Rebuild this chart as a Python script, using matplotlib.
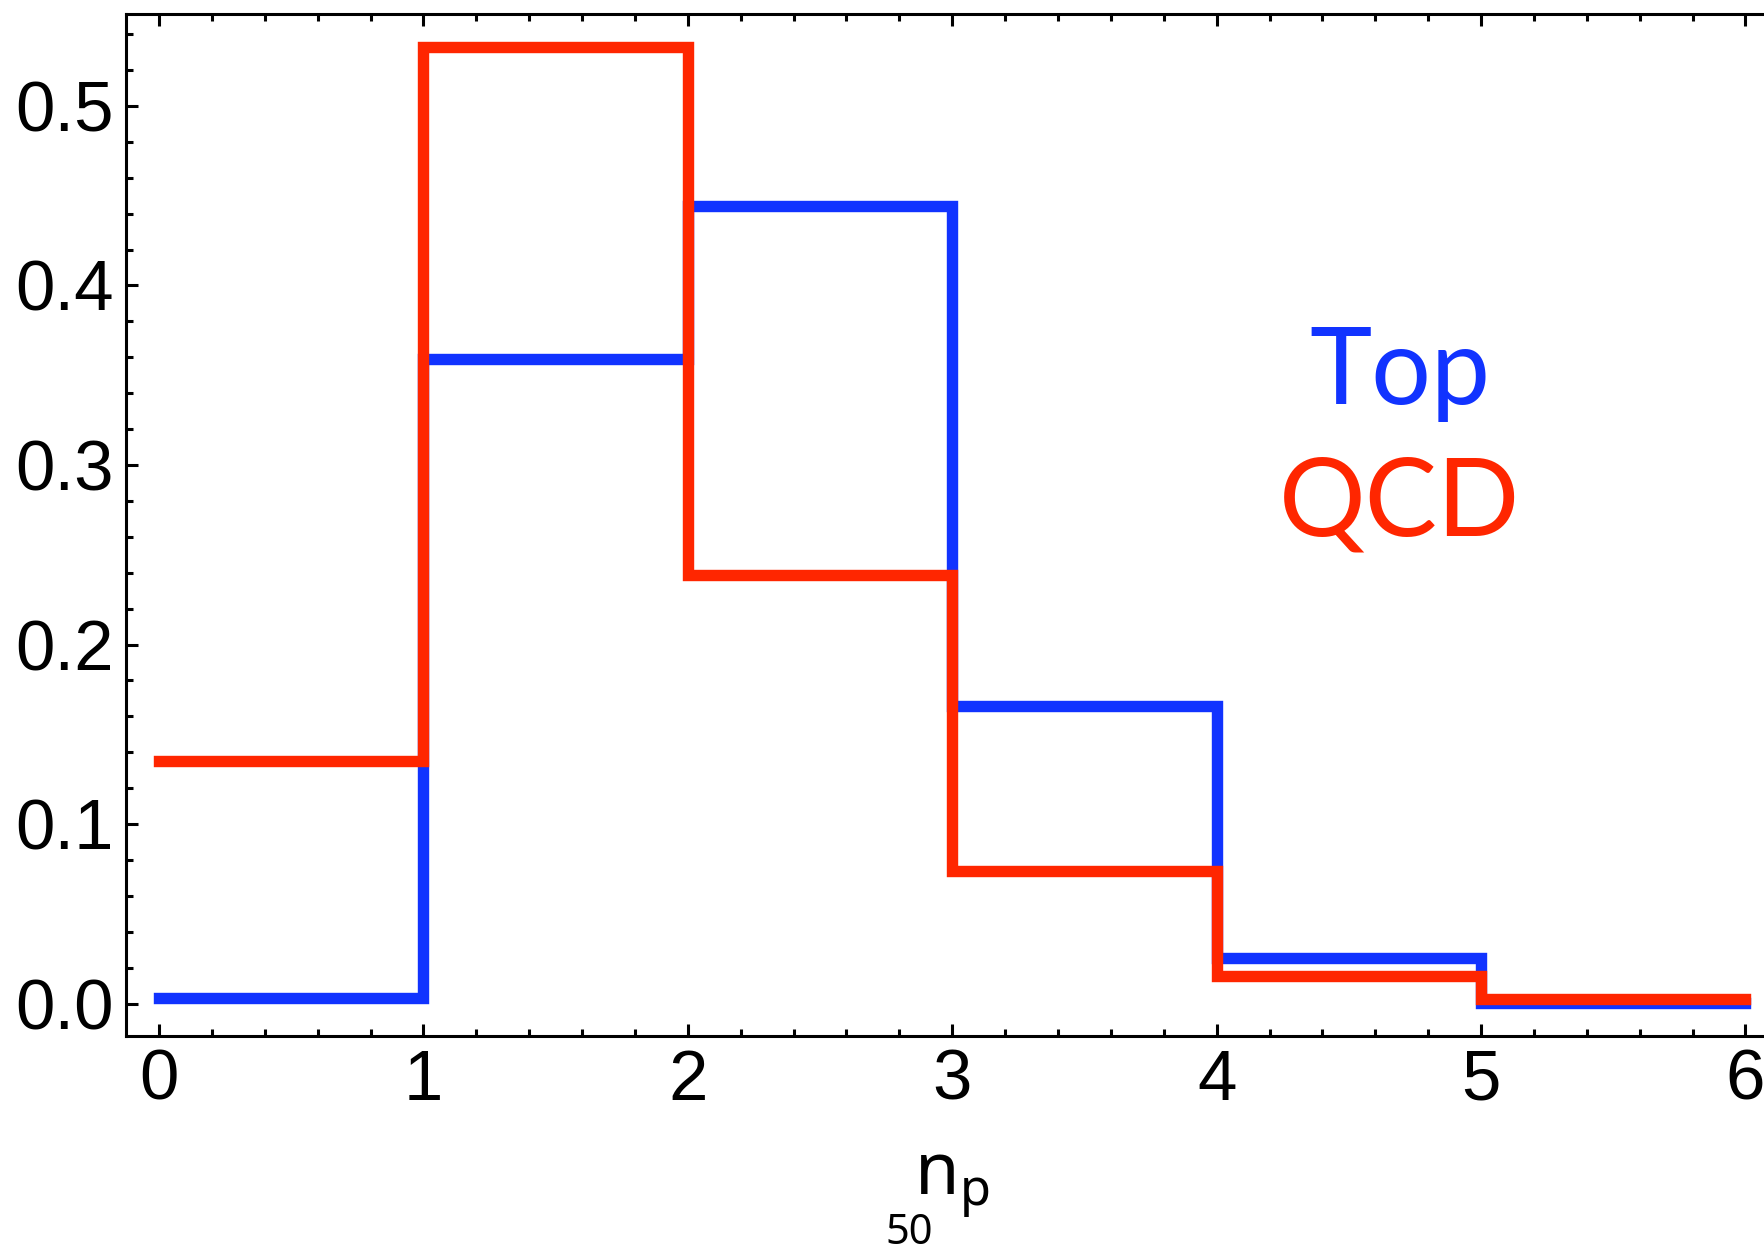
import matplotlib
matplotlib.use("Agg")
import matplotlib.pyplot as plt
from matplotlib.ticker import MultipleLocator, FormatStrFormatter

# Bin edges of the particle-count histogram and normalised fractions per bin
bin_edges = [0, 1, 2, 3, 4, 5, 6]
top_frac = [0.003, 0.359, 0.444, 0.166, 0.0255, 0.0003]
qcd_frac = [0.135, 0.533, 0.239, 0.074, 0.0153, 0.0026]

series_labels = ["Top", "QCD"]
top_color = "#1133FF"
qcd_color = "#FF2600"

plt.rcParams["mathtext.fontset"] = "custom"
plt.rcParams["mathtext.rm"] = "Noto Sans"
plt.rcParams["mathtext.it"] = "Noto Sans"

W, H, DPI = 1765, 1254, 100
fig = plt.figure(figsize=(W / DPI, H / DPI), dpi=DPI)

# Axes box in pixels: left spine, bottom spine, top spine; right edge runs past the canvas
left_px, bottom_px, top_px, right_px = 126, 1036, 14, 1778.5
ax = fig.add_axes([left_px / W, 1 - bottom_px / H,
                   (right_px - left_px) / W, (bottom_px - top_px) / H])

ax.set_xlim(-0.125, 6.125)
ax.set_ylim(-0.018, 0.5512)

for vals, col in ((top_frac, top_color), (qcd_frac, qcd_color)):
    sp = ax.stairs(vals, bin_edges, baseline=None, color=col, linewidth=8.2)
    sp.set_capstyle("projecting")
    sp.set_joinstyle("miter")

# Frame: left, top and bottom spines
for side in ("left", "top", "bottom"):
    ax.spines[side].set_linewidth(2.2)
ax.spines["right"].set_visible(False)

ax.xaxis.set_major_locator(MultipleLocator(1))
ax.xaxis.set_minor_locator(MultipleLocator(0.2))
ax.yaxis.set_major_locator(MultipleLocator(0.1))
ax.yaxis.set_minor_locator(MultipleLocator(0.02))
ax.yaxis.set_major_formatter(FormatStrFormatter("%.1f"))
ax.xaxis.set_major_formatter(FormatStrFormatter("%d"))

ax.tick_params(which="both", direction="in", top=True, right=False,
               width=2.2, color="black")
ax.tick_params(which="major", length=8.3)
ax.tick_params(which="minor", length=4.8)
ax.tick_params(axis="x", which="major", pad=9)
ax.tick_params(axis="y", which="major", pad=9)

for lab in ax.get_xticklabels() + ax.get_yticklabels():
    lab.set_fontfamily("Liberation Sans")
    lab.set_fontsize(51)

# Series labels inside the plot
fig.text(1400 / W, 1 - 404 / H, series_labels[0], color=top_color,
         fontsize=76, family="Lato", ha="center", va="baseline")
fig.text(1400 / W, 1 - 535 / H, series_labels[1], color=qcd_color,
         fontsize=78, family="Lato", ha="center", va="baseline")

# Axis title: n with subscript p and a lower-left index 50
fig.text(914 / W, 1 - 1194 / H, r"$\mathrm{n}_\mathrm{p}$", fontsize=52,
         family="Noto Sans", ha="left", va="baseline")
fig.text(885 / W, 1 - 1244 / H, "50", fontsize=30, family="Noto Sans",
         ha="left", va="baseline")

fig.savefig("out.png", dpi=DPI)
